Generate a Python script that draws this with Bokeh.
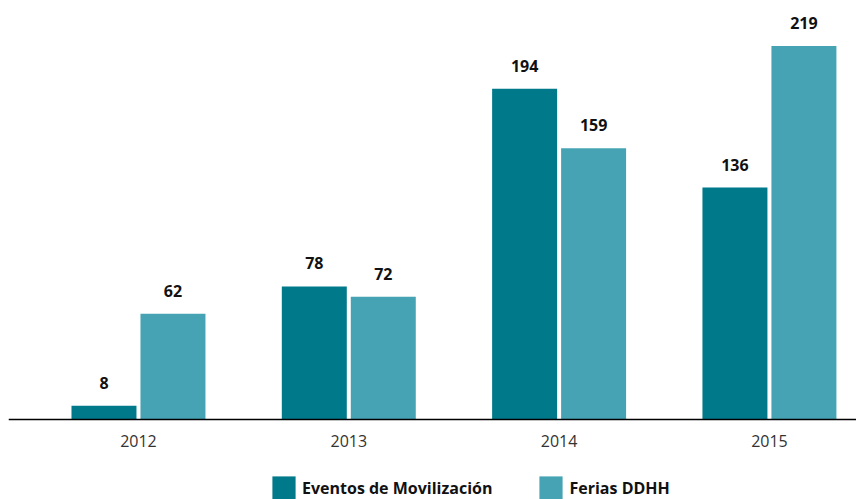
from bokeh.plotting import figure
from bokeh.models import Range1d, FixedTicker, Legend, LegendItem, ColumnDataSource
from bokeh.transform import dodge
from bokeh.core.properties import value
from bokeh.embed import file_html
from bokeh.resources import INLINE

years = ["2012", "2013", "2014", "2015"]
eventos = [8, 78, 194, 136]
ferias = [62, 72, 159, 219]

DARK = "#00798A"
LIGHT = "#46A3B4"
FONT = "Open Sans"

xs = list(range(len(years)))
src = ColumnDataSource(dict(x=xs, eventos=eventos, ferias=ferias,
                            ev_lbl=[str(v) for v in eventos],
                            fe_lbl=[str(v) for v in ferias]))

p = figure(width=856, height=499, output_backend="svg", toolbar_location=None,
           x_range=Range1d(-0.618, 3.414), y_range=Range1d(-46.9, 241),
           min_border_left=8, min_border_right=0, min_border_top=8,
           min_border_bottom=0)
p.background_fill_color = "white"
p.border_fill_color = "white"
p.outline_line_color = None
p.grid.visible = False
p.yaxis.visible = False

off = 0.164
bw = 0.309
r1 = p.vbar(x=dodge("x", -off, range=p.x_range), top="eventos", bottom=0, width=bw,
            source=src, fill_color=DARK, line_color=None)
r2 = p.vbar(x=dodge("x", off, range=p.x_range), top="ferias", bottom=0, width=bw,
            source=src, fill_color=LIGHT, line_color=None)

for col, lbl, o in (("eventos", "ev_lbl", -off), ("ferias", "fe_lbl", off)):
    p.text(x=dodge("x", o, range=p.x_range), y=col, text=lbl, source=src,
           text_align="center", text_baseline="alphabetic", y_offset=-23,
           text_font=value(FONT), text_font_size="16px", text_font_style="bold",
           text_color="#111111")

ax = p.xaxis[0]
ax.fixed_location = 0
ax.ticker = FixedTicker(ticks=xs)
ax.major_label_overrides = {i: y for i, y in enumerate(years)}
ax.major_tick_line_color = None
ax.minor_tick_line_color = None
ax.major_tick_out = 0
ax.axis_line_color = "black"
ax.axis_line_width = 1.6
ax.major_label_text_font = FONT
ax.major_label_text_font_size = "16px"
ax.major_label_text_color = "#333333"
ax.major_label_standoff = 15

legend = Legend(items=[LegendItem(label="Eventos de Movilización", renderers=[r1]),
                       LegendItem(label="Ferias DDHH", renderers=[r2])],
                orientation="horizontal", location=(261, -3),
                glyph_width=29, glyph_height=29, label_height=29,
                label_standoff=4, spacing=44, padding=0, margin=0,
                border_line_color=None, background_fill_alpha=0,
                label_text_font=FONT, label_text_font_size="16px",
                label_text_font_style="bold", label_text_color="#111111")
p.add_layout(legend, "center")

open("out.html", "w").write(file_html(p, INLINE))
